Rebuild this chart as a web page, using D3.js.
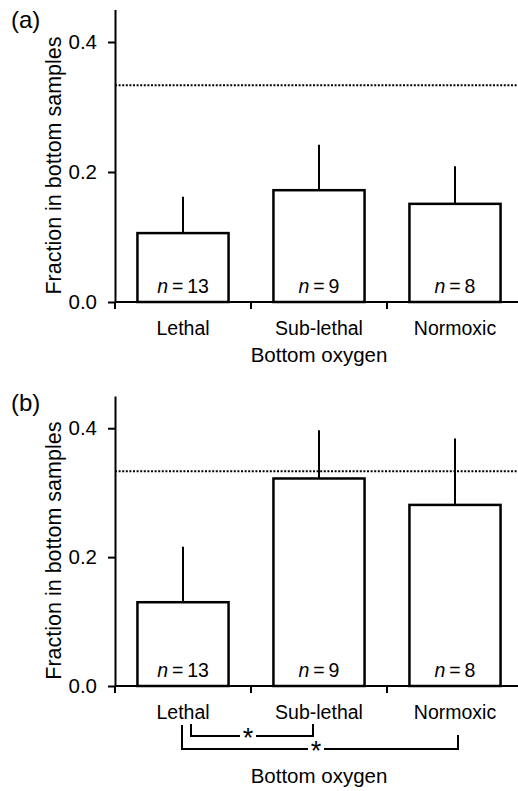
<!DOCTYPE html>
<html>
<head>
<meta charset="utf-8">
<script src="https://cdn.jsdelivr.net/npm/d3@7"></script>
<style>
  html, body { margin: 0; padding: 0; background: #fff; }
  svg { display: block; font-family: "Liberation Sans", Arial, Helvetica, sans-serif; }
</style>
</head>
<body>
<svg id="chart"></svg>
<script>
// data
const categories = ['Lethal', 'Sub-lethal', 'Normoxic'];
const nSamples = [13, 9, 8];
const fracA = [0.106, 0.172, 0.151];
const errA = [0.056, 0.070, 0.058];
const fracB = [0.130, 0.322, 0.281];
const errB = [0.086, 0.075, 0.103];
const expected = 1 / 3;
const yTicks = [0, 0.2, 0.4];
const yMax = 0.45;
const comparisonsB = [['Lethal', 'Sub-lethal'], ['Lethal', 'Normoxic']];

const svgW = 518, svgH = 791;
const axisX = 115;
const svgE = d3.select('#chart').attr('width', svgW).attr('height', svgH);

const x = d3.scaleBand()
    .domain(categories)
    .range([axisX, axisX + 408])
    .paddingInner(0.33)
    .paddingOuter(0.165);

function drawPanel(label, frac, err, yRange, labelY, titleY, comps) {
    const y = d3.scaleLinear().domain([0, yMax]).range(yRange);
    const g = svgE.append('g');

    // panel letter
    g.append('text')
        .attr('x', 11).attr('y', labelY)
        .attr('font-size', 24)
        .text(label);

    // expected fraction (dotted)
    g.append('line')
        .attr('x1', axisX).attr('x2', svgW)
        .attr('y1', y(expected)).attr('y2', y(expected))
        .attr('stroke', '#000')
        .attr('stroke-width', 2)
        .attr('stroke-dasharray', '2,1.6');

    const rows = categories.map((c, i) => ({ c, v: frac[i], e: err[i], n: nSamples[i] }));

    // error bars (drawn first, bar outline covers the base)
    g.selectAll('.err').data(rows).join('line')
        .attr('x1', (d) => x(d.c) + x.bandwidth() / 2)
        .attr('x2', (d) => x(d.c) + x.bandwidth() / 2)
        .attr('y1', (d) => y(d.v))
        .attr('y2', (d) => y(d.v + d.e))
        .attr('stroke', '#000')
        .attr('stroke-width', 2);

    g.selectAll('.bar').data(rows).join('rect')
        .attr('x', (d) => x(d.c))
        .attr('y', (d) => y(d.v))
        .attr('width', x.bandwidth())
        .attr('height', (d) => y(0) - y(d.v))
        .attr('fill', '#fff')
        .attr('stroke', '#000')
        .attr('stroke-width', 2.5);

    // n labels
    const nt = g.selectAll('.nlab').data(rows).join('text')
        .attr('x', (d) => x(d.c) + x.bandwidth() / 2)
        .attr('y', y(0) - 9)
        .attr('text-anchor', 'middle')
        .attr('font-size', 19.5);
    nt.append('tspan').attr('font-style', 'italic').text('n');
    nt.append('tspan').text((d) => '\u2009=\u2009' + d.n);

    // y axis
    const yAxis = d3.axisLeft(y)
        .tickValues(yTicks)
        .tickFormat(d3.format('.1f'))
        .tickSize(7)
        .tickSizeOuter(0)
        .tickPadding(11);
    const ya = g.append('g')
        .attr('transform', `translate(${axisX},0)`)
        .call(yAxis);
    ya.selectAll('path, line').attr('stroke', '#000').attr('stroke-width', 2);
    ya.selectAll('text').attr('font-size', 20.5).attr('font-family', null).attr('fill', '#000');

    // x axis: labels from band scale, line and boundary ticks drawn by hand
    const xa = g.append('g')
        .attr('transform', `translate(0,${y(0)})`)
        .call(d3.axisBottom(x).tickSize(0).tickPadding(19));
    xa.select('.domain').remove();
    xa.selectAll('text').attr('font-size', 19.5).attr('font-family', null).attr('fill', '#000');
    xa.append('line')
        .attr('x1', axisX).attr('x2', svgW)
        .attr('stroke', '#000').attr('stroke-width', 2);
    xa.selectAll('.bnd').data(categories).join('line')
        .attr('x1', (d) => x(d) - (x.step() - x.bandwidth()) / 2)
        .attr('x2', (d) => x(d) - (x.step() - x.bandwidth()) / 2)
        .attr('y1', 0).attr('y2', 7)
        .attr('stroke', '#000').attr('stroke-width', 2);

    // axis titles
    g.append('text')
        .attr('transform', `translate(61,${y(0.21)}) rotate(-90)`)
        .attr('text-anchor', 'middle')
        .attr('font-size', 21.5)
        .text('Fraction in bottom samples');
    g.append('text')
        .attr('x', x('Sub-lethal') + x.bandwidth() / 2)
        .attr('y', titleY)
        .attr('text-anchor', 'middle')
        .attr('font-size', 20.5)
        .text('Bottom oxygen');

    // significance brackets
    if (comps) {
        const base = y(0);
        const brk = [
            { l: comps[0][0], r: comps[0][1], dl: 8, dr: -6, top: base + 38, topR: base + 38, bot: base + 50 },
            { l: comps[1][0], r: comps[1][1], dl: -1, dr: 3, top: base + 39, topR: base + 49, bot: base + 63 }
        ];
        brk.forEach((b) => {
            const xl = x(b.l) + x.bandwidth() / 2 + b.dl;
            const xr = x(b.r) + x.bandwidth() / 2 + b.dr;
            const xm = (xl + xr) / 2 - 4;
            const gap = 8;
            g.append('path')
                .attr('d', `M${xl},${b.top}V${b.bot}H${xm - gap}M${xm + gap},${b.bot}H${xr}V${b.topR}`)
                .attr('fill', 'none')
                .attr('stroke', '#000')
                .attr('stroke-width', 2);
            g.append('text')
                .attr('x', xm).attr('y', b.bot + 11)
                .attr('text-anchor', 'middle')
                .attr('font-size', 27)
                .text('*');
        });
    }
}

drawPanel('(a)', fracA, errA, [302, 9.5], 28, 362, null);
drawPanel('(b)', fracB, errB, [686, 396], 411, 783, comparisonsB);
</script>
</body>
</html>
